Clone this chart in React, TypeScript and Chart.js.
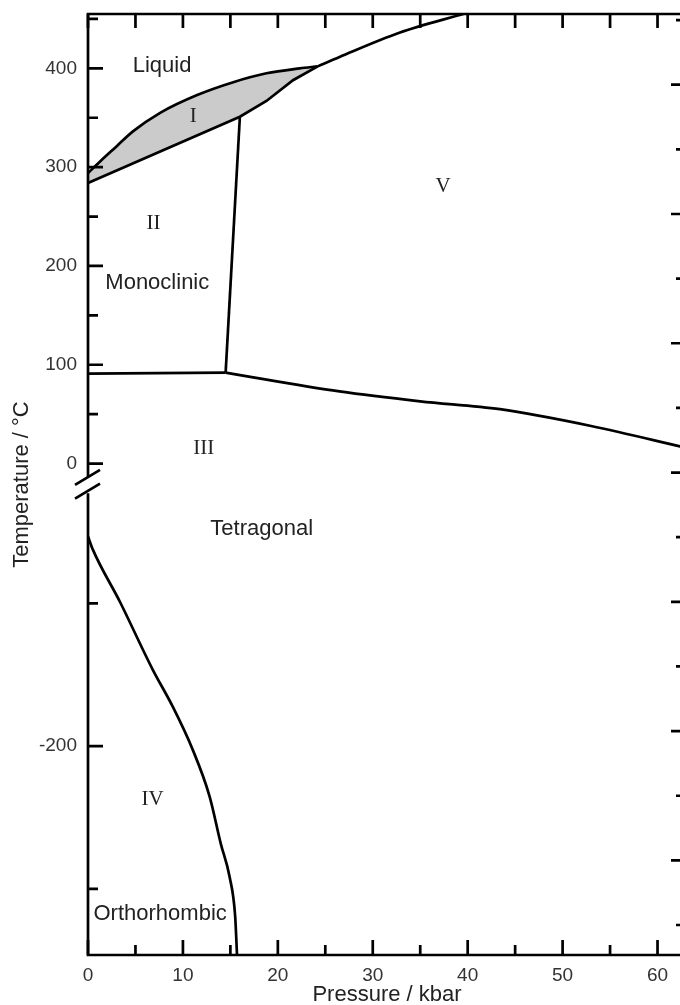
import React, { useEffect, useRef } from 'react';
import { Chart, registerables } from 'chart.js';

Chart.register(...registerables);

const SANS = "'Liberation Sans', Arial, Helvetica, sans-serif";
const SERIF = "'Liberation Serif', 'Times New Roman', serif";

// Phase boundaries: pressure (kbar) and temperature (°C)
const liquidusP = [0, 1.3, 3.0, 4.7, 7.6, 11.5, 15.3, 18.8, 22.3, 24.2];
const liquidusT = [294, 306, 321, 336, 355, 373, 386, 395, 400, 402];
const solidusP = [0, 16.0, 18.8, 21.6, 24.2];
const solidusT = [284, 351, 367, 388, 402];
const meltVP = [24.2, 26.5, 32.8, 39.7];
const meltVT = [402, 411.5, 436, 455.5];
const lineIIVP = [16.0, 14.5];
const lineIIVT = [351, 92];
const lineIIIIIP = [0, 14.5];
const lineIIIIIT = [91, 92];
const lineIIIVP = [14.5, 26.5, 35, 43.4, 53, 63];
const lineIIIVT = [92, 73, 63, 55, 38, 16];
const lineIIIIVP = [0, 0.5, 3.4, 6.8, 8.9, 11.0, 12.8, 14.0, 14.9, 15.5, 15.7];
const lineIIIIVT = [-126.6, -131.1, -149.7, -173.1, -186.0, -201.0, -217.5, -234.3, -245.5, -259.4, -273.15];

// Phase field labels
const phaseNames = ['Liquid', 'I', 'II', 'Monoclinic', 'V', 'III', 'Tetragonal', 'IV', 'Orthorhombic'];
const phaseLabelP = [7.8, 11.1, 6.9, 7.3, 37.4, 12.2, 18.3, 6.8, 7.6];
const phaseLabelT = [402, 351, 243, 183, 280, 15, -124, -218.8, -258.7];
const phaseLabelSerif = [false, true, true, false, true, true, false, true, false];

// Axis ticks
const pressureTicks = [0, 5, 10, 15, 20, 25, 30, 35, 40, 45, 50, 55, 60];
const tempTicks = [450, 400, 350, 300, 250, 200, 150, 100, 50, 0, -150, -200, -250];
const tempTickLabels = ['', '400', '', '300', '', '200', '', '100', '', '0', '', '-200', ''];
const rightTicks = [0, 1, 2, 3, 4, 5, 6, 7, 8, 9, 10, 11, 12, 13, 14];

// Broken temperature axis: the low-temperature segment is stretched
const T_MAX = 455;
const T_MIN = -273.15;
const UPPER_END = -14; // lowest temperature shown on the upper segment
const LOWER_START = -111.4; // highest temperature shown on the lower segment
const LOW_ANCHOR_T = -200;
const LOW_ANCHOR_U = -286;
const LOW_STRETCH = 2.89;
const toAxis = (t: number) => (t > -60 ? t : LOW_ANCHOR_U + LOW_STRETCH * (t - LOW_ANCHOR_T));

const pts = (p: number[], t: number[]) => p.map((v, i) => ({ x: v, y: toAxis(t[i]) }));

const lens = [...pts(liquidusP, liquidusT), ...pts(solidusP, solidusT).reverse()];

const LINE_W = 2.7;

const lineStyle = {
  borderColor: '#000',
  borderWidth: LINE_W,
  pointRadius: 0,
  showLine: true,
  fill: false,
  order: 0,
};

const noPad = (s: any) => {
  s.paddingTop = 0;
  s.paddingBottom = 0;
  s.paddingLeft = 0;
  s.paddingRight = 0;
};

const framePlugin = {
  id: 'phaseFrame',
  afterDatasetsDraw(chart: any) {
    const { ctx, chartArea: a, scales } = chart;
    const xs = scales.x;
    const ys = scales.y;
    const rs = scales.y2;
    const breakTop = ys.getPixelForValue(toAxis(UPPER_END));
    const breakBottom = ys.getPixelForValue(toAxis(LOWER_START));
    ctx.save();
    ctx.strokeStyle = '#000';
    ctx.lineWidth = LINE_W;
    ctx.lineCap = 'butt';
    ctx.lineJoin = 'miter';
    // frame with a gap on the temperature axis
    ctx.beginPath();
    ctx.moveTo(a.left, breakTop);
    ctx.lineTo(a.left, a.top);
    ctx.lineTo(a.right, a.top);
    ctx.lineTo(a.right, a.bottom);
    ctx.lineTo(a.left, a.bottom);
    ctx.lineTo(a.left, breakBottom);
    ctx.stroke();
    // break marks
    ctx.beginPath();
    [breakTop, breakBottom - 2].forEach((yc) => {
      ctx.moveTo(a.left - 13, yc + 7.5);
      ctx.lineTo(a.left + 12, yc - 7.5);
    });
    ctx.stroke();
    // inward tick marks
    ctx.beginPath();
    xs.ticks.forEach((t: any) => {
      const px = xs.getPixelForValue(t.value);
      const len = t.value % 10 === 0 ? 15 : 10;
      ctx.moveTo(px, a.bottom);
      ctx.lineTo(px, a.bottom - len);
      ctx.moveTo(px, a.top);
      ctx.lineTo(px, a.top + 14);
    });
    ys.ticks.forEach((t: any, i: number) => {
      const py = ys.getPixelForValue(t.value);
      const len = tempTickLabels[i] ? 15 : 10;
      ctx.moveTo(a.left, py);
      ctx.lineTo(a.left + len, py);
    });
    rs.ticks.forEach((t: any) => {
      const py = rs.getPixelForValue(t.value);
      const len = t.value % 2 === 1 ? 15 : 10;
      ctx.moveTo(a.right, py);
      ctx.lineTo(a.right - len, py);
    });
    ctx.stroke();
    // phase field labels
    ctx.fillStyle = '#222';
    ctx.textAlign = 'center';
    ctx.textBaseline = 'middle';
    phaseNames.forEach((name, i) => {
      ctx.font = phaseLabelSerif[i] ? `21px ${SERIF}` : `22px ${SANS}`;
      ctx.fillText(name, xs.getPixelForValue(phaseLabelP[i]), ys.getPixelForValue(toAxis(phaseLabelT[i])));
    });
    ctx.restore();
  },
};

export default function App() {
  const ref = useRef<HTMLCanvasElement | null>(null);

  useEffect(() => {
    if (!ref.current) return;
    const chart = new Chart(ref.current, {
      type: 'scatter',
      data: {
        datasets: [
          {
            data: lens,
            showLine: true,
            borderWidth: 0,
            borderColor: 'rgba(0,0,0,0)',
            backgroundColor: '#cbcbcb',
            pointRadius: 0,
            fill: 'shape',
            tension: 0,
            order: 10,
          },
          { ...lineStyle, data: pts(liquidusP, liquidusT), cubicInterpolationMode: 'monotone' },
          { ...lineStyle, data: pts(solidusP, solidusT), tension: 0 },
          { ...lineStyle, data: pts(meltVP, meltVT), cubicInterpolationMode: 'monotone' },
          { ...lineStyle, data: pts(lineIIVP, lineIIVT), tension: 0 },
          { ...lineStyle, data: pts(lineIIIIIP, lineIIIIIT), tension: 0 },
          { ...lineStyle, data: pts(lineIIIVP, lineIIIVT), cubicInterpolationMode: 'monotone' },
          { ...lineStyle, data: pts(lineIIIIVP, lineIIIIVT), cubicInterpolationMode: 'monotone' },
        ] as any,
      },
      options: {
        responsive: false,
        maintainAspectRatio: false,
        animation: false,
        layout: { padding: { top: 14, left: 0, right: 0, bottom: 0 } },
        plugins: {
          legend: { display: false },
          tooltip: { enabled: false },
        },
        scales: {
          x: {
            type: 'linear',
            position: 'bottom',
            min: 0,
            max: 63,
            afterBuildTicks: (s: any) => {
              s.ticks = pressureTicks.map((v) => ({ value: v }));
            },
            afterFit: (s: any) => {
              s.height = 50;
              noPad(s);
            },
            grid: { display: false, drawTicks: false },
            border: { display: false },
            ticks: {
              autoSkip: false,
              maxRotation: 0,
              padding: 9,
              color: '#333',
              font: { size: 19, family: SANS },
              callback: (v: any) => (Number(v) % 10 === 0 ? String(v) : ''),
            },
            title: {
              display: true,
              text: 'Pressure / kbar',
              color: '#222',
              font: { size: 22, family: SANS, lineHeight: 1 },
              padding: { top: 0, bottom: -1 },
            },
          },
          y: {
            type: 'linear',
            position: 'left',
            min: toAxis(T_MIN),
            max: T_MAX,
            afterBuildTicks: (s: any) => {
              s.ticks = tempTicks.map((t) => ({ value: toAxis(t) }));
            },
            afterFit: (s: any) => {
              s.width = 88;
              noPad(s);
            },
            grid: { display: false, drawTicks: false },
            border: { display: false },
            ticks: {
              autoSkip: false,
              padding: 11,
              color: '#333',
              font: { size: 19, family: SANS },
              callback: (_v: any, i: number) => tempTickLabels[i],
            },
            title: {
              display: true,
              text: 'Temperature / °C',
              color: '#222',
              font: { size: 22, family: SANS, lineHeight: 1 },
              padding: { top: 11, bottom: 0 },
            },
          },
          y2: {
            type: 'linear',
            position: 'right',
            min: -0.464,
            max: 14.094,
            afterBuildTicks: (s: any) => {
              s.ticks = rightTicks.map((v) => ({ value: v }));
            },
            afterFit: (s: any) => {
              s.width = 14;
              noPad(s);
            },
            grid: { display: false, drawTicks: false },
            border: { display: false },
            ticks: { display: false },
          },
        },
      } as any,
      plugins: [framePlugin],
    });
    return () => chart.destroy();
  }, []);

  return (
    <div style={{ position: 'fixed', left: 0, top: 0, width: 680, height: 1005, overflow: 'hidden', background: '#fff' }}>
      <canvas ref={ref} width={700} height={1005} style={{ display: 'block' }} />
    </div>
  );
}
